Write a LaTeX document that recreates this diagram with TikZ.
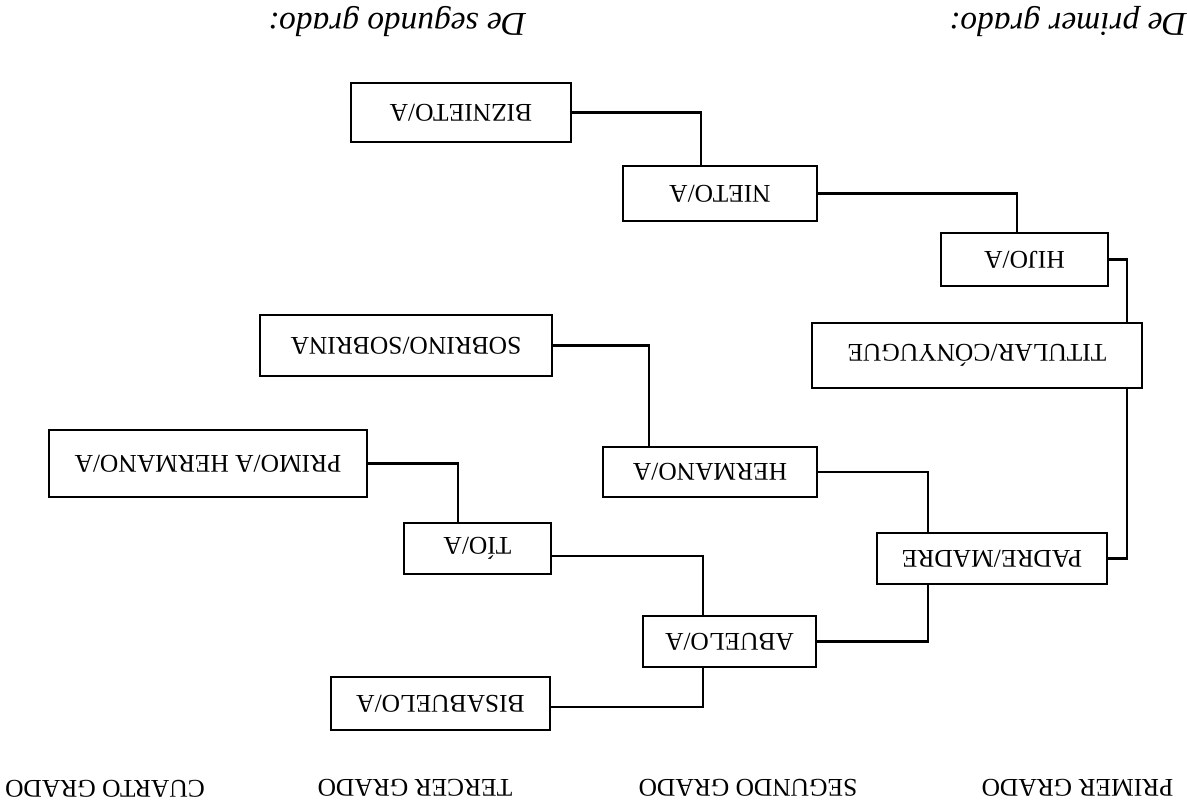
\documentclass[tikz,border=0pt]{standalone}
\usepackage{fontspec}
\setmainfont{Liberation Serif}
\usepackage{graphicx}
\begin{document}
\begin{tikzpicture}[x=0.02cm,y=-0.02cm,
  box/.style={draw,line width=1.3pt,inner sep=0pt,font=\fontsize{14.5}{17}\selectfont},
  conn/.style={line width=1.2pt},
  grade/.style={rotate=180,inner sep=0pt,font=\fontsize{14.5}{17}\selectfont},
  script/.style={rotate=180,inner sep=0pt,font=\fontsize{19}{22}\selectfont\itshape}]
\useasboundingbox (0,0) rectangle (1187,808);

% headings (upside down)
\node[script] (h2) at (397,22) {De segundo grado:};
\node[script] (h1) at (1068,22) {De primer grado:};

% boxes
\node[box,minimum width=4.40cm,minimum height=1.18cm] (bizn)  at (461,112.5)   {\rotatebox{180}{BIZNIETO/A}};
\node[box,minimum width=3.88cm,minimum height=1.10cm] (nieto) at (720,193.5)   {\rotatebox{180}{NIETO/A}};
\node[box,minimum width=3.34cm,minimum height=1.06cm] (hijo)  at (1024.5,259.5){\rotatebox{180}{HIJO/A}};
\node[box,minimum width=6.60cm,minimum height=1.30cm] (tit)   at (977,355.5)   {\rotatebox{180}{TITULAR/CÓNYUGUE}};
\node[box,minimum width=5.84cm,minimum height=1.22cm] (sob)   at (406,345.5)   {\rotatebox{180}{SOBRINO/SOBRINA}};
\node[box,minimum width=4.28cm,minimum height=1.00cm] (herm)  at (710,472)     {\rotatebox{180}{HERMANO/A}};
\node[box,minimum width=6.36cm,minimum height=1.34cm] (primo) at (208,463.5)   {\rotatebox{180}{PRIMO/A HERMANO/A}};
\node[box,minimum width=2.94cm,minimum height=1.02cm] (tio)   at (477.5,548.5) {\rotatebox{180}{TÍO/A}};
\node[box,minimum width=4.60cm,minimum height=1.02cm] (padre) at (992,558.5)   {\rotatebox{180}{PADRE/MADRE}};
\node[box,minimum width=3.46cm,minimum height=1.02cm] (abu)   at (729.5,641.5) {\rotatebox{180}{ABUELO/A}};
\node[box,minimum width=4.38cm,minimum height=1.06cm] (bis)   at (440.5,703.5) {\rotatebox{180}{BISABUELO/A}};

% grade labels
\node[grade] (g1) at (1077.5,788) {PRIMER GRADO};
\node[grade] (g2) at (748,788)    {SEGUNDO GRADO};
\node[grade] (g3) at (415,788)    {TERCER GRADO};
\node[grade] (g4) at (105,789)    {CUARTO GRADO};

% helper coordinates for connector positions
\coordinate (xN)  at (701,0);
\coordinate (xHi) at (1017,0);
\coordinate (xR)  at (1127,0);
\coordinate (xP)  at (928,0);
\coordinate (xH)  at (649,0);
\coordinate (xAb) at (703,0);
\coordinate (xT)  at (458,0);
\coordinate (yTio) at (0,556);
\coordinate (yBis) at (0,707);

% connectors
\draw[conn] (bizn.east) -| (nieto.north -| xN);
\draw[conn] (nieto.east) -| (hijo.north -| xHi);
\draw[conn] (hijo.east) -| (tit.north -| xR);
\draw[conn] (tit.south -| xR) |- (padre.east);
\draw[conn] (padre.north -| xP) |- (herm.east);
\draw[conn] (herm.north -| xH) |- (sob.east);
\draw[conn] (padre.south -| xP) |- (abu.east);
\draw[conn] (abu.north -| xAb) |- (tio.east |- yTio);
\draw[conn] (tio.north -| xT) |- (primo.east);
\draw[conn] (abu.south -| xAb) |- (bis.east |- yBis);
\end{tikzpicture}
\end{document}
